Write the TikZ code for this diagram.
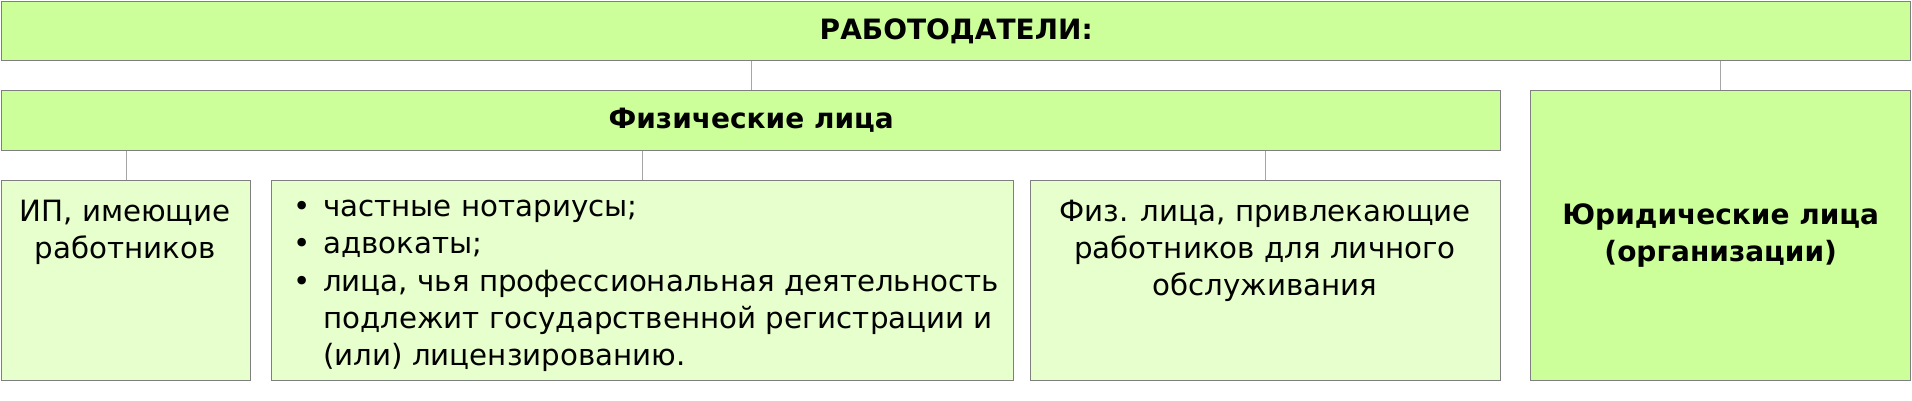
\documentclass[tikz,border=0pt]{standalone}
\usepackage{fontspec}
\setmainfont{DejaVu Sans}
\usepackage{xcolor}
\usepackage{tikz}

\definecolor{boxdark}{HTML}{CCFF99}
\definecolor{boxlight}{HTML}{E6FFCC}
\definecolor{framegray}{HTML}{7F7F7F}
\definecolor{linkgray}{HTML}{A6A6A6}

\newcommand\bul{\makebox[30pt][l]{•}}
\newcommand\cont{\hspace*{30pt}}

\tikzset{
	darkbox/.style={draw=framegray, line width=1.4pt, fill=boxdark, inner sep=0pt, anchor=north west, align=center, font=\bfseries\fontsize{28}{37}\selectfont},
	lightbox/.style={draw=framegray, line width=1.4pt, fill=boxlight, inner sep=0pt, anchor=north west},
	boxtext/.style={inner sep=0pt, anchor=north, align=center, font=\fontsize{29.3}{37.2}\selectfont},
	link/.style={draw=linkgray, line width=1pt},
}

\begin{document}
\begin{tikzpicture}[x=1pt,y=-1pt]
		\useasboundingbox (0,0) rectangle (1912,401);
		\node[darkbox, minimum width=1909pt, minimum height=59pt] (employers) at (1,1) {РАБОТОДАТЕЛИ:};
		\node[darkbox, minimum width=1499pt, minimum height=60pt] (natural) at (1,90) {Физические лица};
		\node[darkbox, minimum width=380pt, minimum height=290pt] (legal) at (1530,90) {Юридические лица\\(организации)};
		\node[lightbox, minimum width=249pt, minimum height=200pt] (entrepr) at (1,180) {};
		\node[lightbox, minimum width=742pt, minimum height=200pt] (lawyers) at (271,180) {};
		\node[lightbox, minimum width=470pt, minimum height=200pt] (private) at (1030,180) {};
		\draw[link] (natural.north |- employers.south) -- (natural.north);
		\draw[link] (legal.north |- employers.south) -- (legal.north);
		\draw[link] (entrepr.north |- natural.south) -- (entrepr.north);
		\draw[link] (lawyers.north |- natural.south) -- (lawyers.north);
		\draw[link] (private.north |- natural.south) -- (private.north);
		\node[boxtext] (entreprtext) at (125,200) {ИП, имеющие\\работников};
		\node[boxtext, anchor=north west, align=left] (lawyerstext) at (293,200) {\bul частные нотариусы;\\\bul адвокаты;\\\bul лица, чья профессиональная деятельность\\\cont подлежит государственной регистрации и\\\cont (или) лицензированию.};
		\node[boxtext] (privatetext) at (1265,200) {Физ. лица, привлекающие\\работников для личного\\обслуживания};
	\end{tikzpicture}
\end{document}
